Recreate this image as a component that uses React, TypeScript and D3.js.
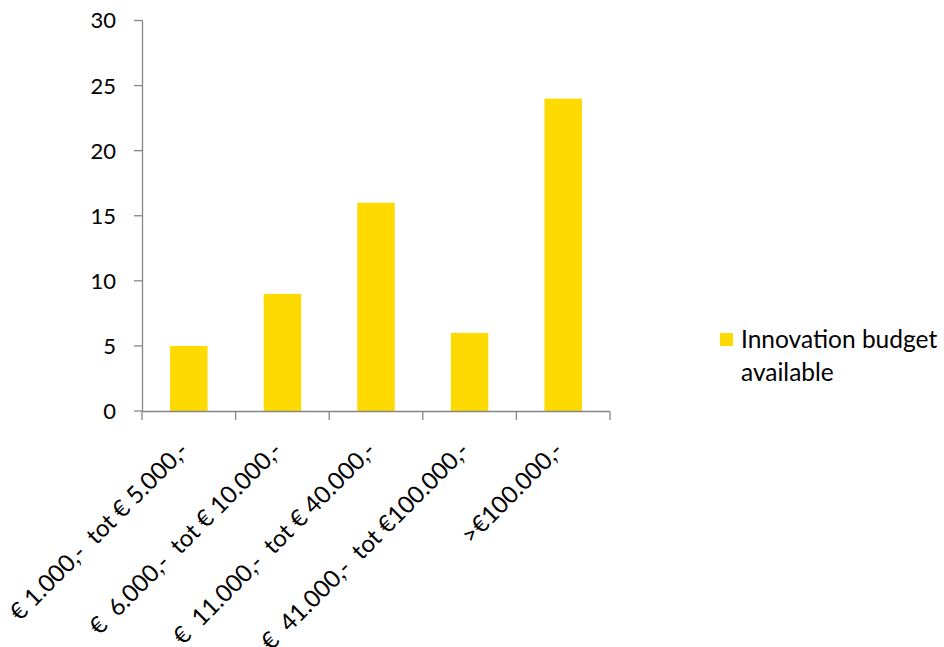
import React from "react";
import * as d3 from "d3";

const categories = [
  "€ 1.000,-  tot € 5.000,-",
  "€  6.000,-  tot € 10.000,-",
  "€  11.000,-  tot € 40.000,-",
  "€  41.000,-  tot €100.000,-",
  ">€100.000,-",
];
const values = [5, 9, 16, 6, 24];
const yTicks = [0, 5, 10, 15, 20, 25, 30];
const seriesName = ["Innovation budget", "available"];

const W = 944;
const H = 647;
const FONT = "Lato, 'Open Sans', sans-serif";

export default function App() {
  const x = d3.scaleBand<string>().domain(categories).range([142, 610]).paddingInner(0.6).paddingOuter(0.3);
  const y = d3.scaleLinear().domain([0, 30]).range([411, 20.5]);
  const band = d3.scaleBand<string>().domain(categories).range([142, 610]);
  const axisColor = "#868686";
  return (
    <svg width={W} height={H} style={{ position: "absolute", left: 0, top: 0 }}>
      <rect width={W} height={H} fill="#fff" />
      {values.map((v, i) => (
        <rect
          key={i}
          x={x(categories[i])}
          y={y(v)}
          width={x.bandwidth()}
          height={y(0) - y(v)}
          fill="#FFDA00"
        />
      ))}
      <line x1={142.5} x2={142.5} y1={y(30)} y2={y(0)} stroke={axisColor} strokeWidth={1.3} />
      {yTicks.map((t) => (
        <g key={t}>
          <line x1={134} x2={142.5} y1={y(t)} y2={y(t)} stroke={axisColor} strokeWidth={1.3} />
          <text x={116} y={y(t)} dy="0.36em" textAnchor="end" fontFamily={FONT} fontSize={22} fill="#000">
            {t}
          </text>
        </g>
      ))}
      <line x1={142} x2={610} y1={411.5} y2={411.5} stroke={axisColor} strokeWidth={1.3} />
      {[...categories.map((c) => band(c) as number), 610].map((px, i) => (
        <line key={i} x1={px} x2={px} y1={411.5} y2={420} stroke={axisColor} strokeWidth={1.3} />
      ))}
      {categories.map((c, i) => {
        const cx = (band(c) as number) + band.bandwidth() / 2 + 1;
        const cy = 452;
        return (
          <text
            key={i}
            x={cx}
            y={cy}
            transform={`rotate(-45 ${cx} ${cy})`}
            textAnchor="end"
            fontFamily={FONT}
            fontSize={24}
            fill="#000"
            style={{ whiteSpace: "pre" }}
          >
            {c}
          </text>
        );
      })}
      <rect x={720} y={333} width={13} height={13} fill="#FFDA00" />
      <text x={741} y={348} fontFamily={FONT} fontSize={24.5} fill="#000">
        {seriesName[0]}
      </text>
      <text x={741} y={381} fontFamily={FONT} fontSize={24.5} fill="#000">
        {seriesName[1]}
      </text>
    </svg>
  );
}
